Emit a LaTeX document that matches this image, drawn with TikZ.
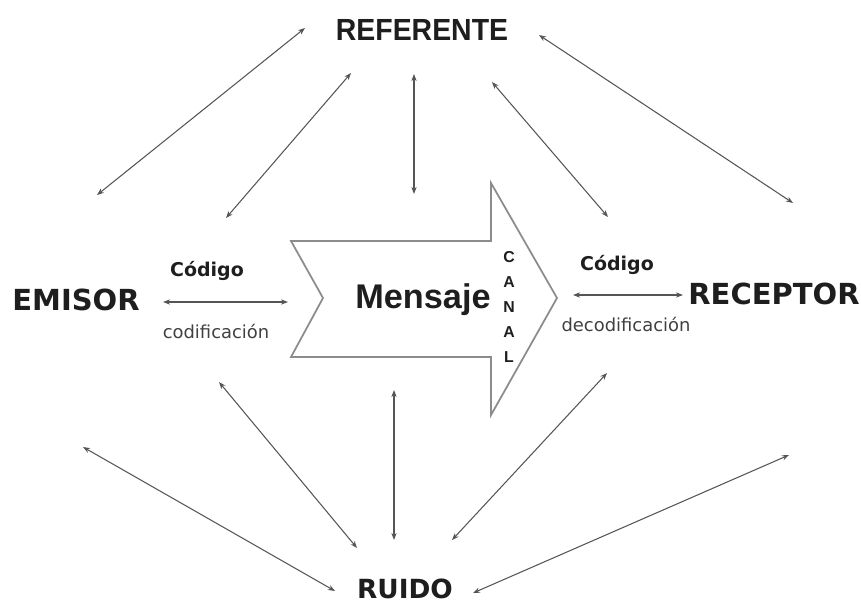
\documentclass[tikz,border=0pt]{standalone}
\usepackage{fontspec}
\usetikzlibrary{arrows.meta}
\setmainfont{DejaVu Sans}
\newfontfamily\arialfont{Liberation Sans}
\newfontfamily\narrowfont[FakeStretch=0.93]{Liberation Sans}
\definecolor{lcol}{RGB}{85,85,85}
\definecolor{scol}{RGB}{140,140,140}
\definecolor{tcol}{RGB}{30,30,30}
\tikzset{every picture/.style={x=0.02cm,y=-0.02cm}}
\tikzset{actor/.style={inner sep=0,text=tcol,font=\fontsize{16.5}{18}\selectfont\bfseries}}
\tikzset{codigo/.style={inner sep=0,text=tcol,font=\fontsize{10.8}{12}\selectfont\bfseries}}
\tikzset{proceso/.style={inner sep=0,text=black!75,font=\fontsize{10.2}{12}\selectfont}}
\tikzset{canal/.style={inner sep=0,text=tcol,font=\arialfont\fontsize{9}{10}\selectfont\bfseries}}
\tikzset{edge/.style={lcol,line width=0.6pt,{Stealth[length=4pt,width=3pt]}-{Stealth[length=4pt,width=3pt]}}}
\tikzset{flecha/.style={scol,line width=1pt,line join=miter}}

\begin{document}
\begin{tikzpicture}
\useasboundingbox (0,0) rectangle (861,605);
\node [actor,font=\narrowfont\fontsize{17.4}{19}\selectfont\bfseries] (ref) at (422,30) {REFERENTE};
\node [actor] (emi) at (76,300) {EMISOR};
\node [actor] (rec) at (774,294) {RECEPTOR};
\node [actor,font=\fontsize{15}{17}\selectfont\bfseries] (rui) at (405,589) {RUIDO};
% canal
\draw [flecha] (291,241) -- (491,241) -- (491,183) -- (557,298) -- (491,415)
  -- (491,357) -- (291,357) -- (323,298) -- cycle;
\node [inner sep=0,text=tcol,font=\arialfont\fontsize{19.5}{21}\selectfont\bfseries] (men) at (423,300) {Mensaje};
\foreach \l [count=\i] in {C,A,N,A,L}
  \node [canal] (c\i) at (509,232+25*\i) {\l};
\node [codigo] (cod1) at (207,271) {Código};
\node [proceso] (pro1) at (216,331) {codificación};
\node [codigo] (cod2) at (617,265) {Código};
\node [proceso] (pro2) at (626,324) {decodificación};
% extremos de las flechas
\coordinate (r1a) at (305,28);  \coordinate (r1b) at (97,195);
\coordinate (r2a) at (351,73);  \coordinate (r2b) at (226,218);
\coordinate (r3a) at (414,74);  \coordinate (r3b) at (414,194);
\coordinate (r4a) at (492,82);  \coordinate (r4b) at (608,217);
\coordinate (r5a) at (539,35);  \coordinate (r5b) at (793,203);
\coordinate (e1) at (163,302);  \coordinate (e2) at (288,302);
\coordinate (d1) at (573,295);  \coordinate (d2) at (683,295);
\coordinate (n1a) at (83,447);  \coordinate (n1b) at (335,591);
\coordinate (n2a) at (219,382); \coordinate (n2b) at (357,548);
\coordinate (n3a) at (394,390); \coordinate (n3b) at (394,540);
\coordinate (n4a) at (607,373); \coordinate (n4b) at (452,540);
\coordinate (n5a) at (789,455); \coordinate (n5b) at (473,593);
\foreach \i in {1,...,5} {
  \draw [edge] (r\i a) -- (r\i b);
  \draw [edge] (n\i a) -- (n\i b);
}
\draw [edge] (e1) -- (e2);
\draw [edge] (d1) -- (d2);
\end{tikzpicture}
\end{document}
